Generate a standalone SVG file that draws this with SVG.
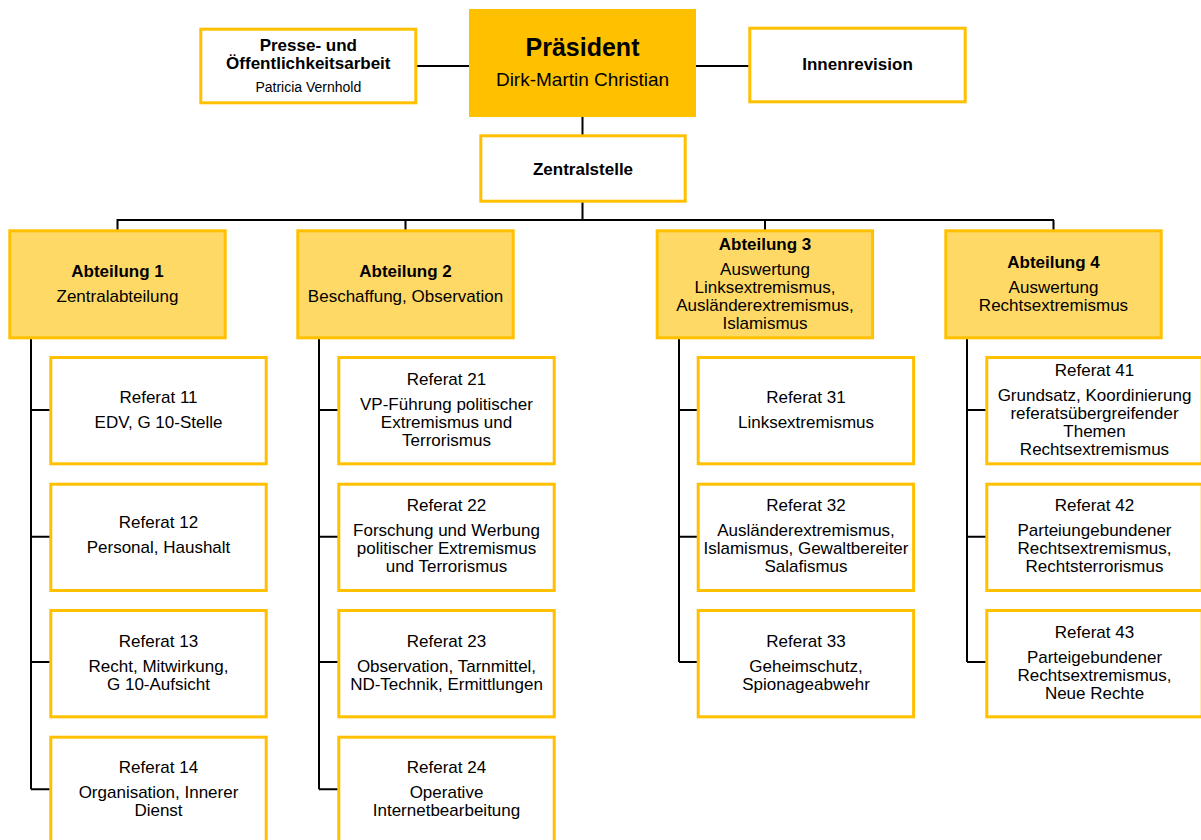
<svg xmlns="http://www.w3.org/2000/svg" width="1201" height="840" viewBox="0 0 1201 840">
<style>
.w{fill:#FFFFFF;stroke:#FFC000;stroke-width:3}
.a{fill:#FFD966;stroke:#FFC000;stroke-width:3}
.p{fill:#FFC000;stroke:none}
text{font-family:"Liberation Sans",Arial,sans-serif;fill:#000;text-anchor:middle;font-size:17px}
.b{font-weight:bold}
.c{fill:none;stroke:#000;stroke-width:2}
</style>
<rect width="1201" height="840" fill="#FFFFFF"/>
<g id="connectors">
<path class="c" d="M417 66H469M696 66H749M582.5 117V135M582.5 202V220M116.5 220H1054M117.5 220V230M405.5 220V230M765 220V230M1053.5 220V230"/>
<path class="c" d="M31 339V789.3M31 410H51M31 536.7H51M31 662H51M31 789.3H51"/>
<path class="c" d="M319 339V789.3M319 410H339M319 536.7H339M319 662H339M319 789.3H339"/>
<path class="c" d="M679 339V662M679 410H698M679 536.7H698M679 662H698"/>
<path class="c" d="M967 339V662M967 410H987M967 536.7H987M967 662H987"/>
</g>
<g id="praesident">
<rect class="p" x="469" y="9" width="227" height="108"/>
<text class="b" x="582.5" y="56" style="font-size:25px">Präsident</text>
<text x="582.5" y="86" style="font-size:19px">Dirk-Martin Christian</text>
</g>
<g id="presse">
<rect class="w" x="200.8" y="29.2" width="215" height="73.6"/>
<text class="b" x="308.3" y="51">Presse- und</text>
<text class="b" x="308.3" y="69">Öffentlichkeitsarbeit</text>
<text x="308.3" y="92" style="font-size:14px">Patricia Vernhold</text>
</g>
<g id="innenrevision">
<rect class="w" x="749.8" y="28.2" width="215.4" height="73.6"/>
<text class="b" x="857.5" y="70">Innenrevision</text>
</g>
<g id="zentralstelle">
<rect class="w" x="480.8" y="135.8" width="204.4" height="65.4"/>
<text class="b" x="583" y="175">Zentralstelle</text>
</g>
<g id="abteilung1">
<rect class="a" x="9.8" y="230.8" width="215.4" height="107"/>
<text class="b" x="117.5" y="277">Abteilung 1</text>
<text x="117.5" y="302">Zentralabteilung</text>
</g>
<g id="abteilung2">
<rect class="a" x="297.8" y="230.8" width="215.4" height="107"/>
<text class="b" x="405.5" y="277">Abteilung 2</text>
<text x="405.5" y="302">Beschaffung, Observation</text>
</g>
<g id="abteilung3">
<rect class="a" x="657.2" y="230.8" width="215.4" height="107"/>
<text class="b" x="765" y="250">Abteilung 3</text>
<text x="765" y="275">Auswertung</text>
<text x="765" y="293">Linksextremismus,</text>
<text x="765" y="311">Ausländerextremismus,</text>
<text x="765" y="329">Islamismus</text>
</g>
<g id="abteilung4">
<rect class="a" x="945.8" y="230.8" width="215.4" height="107"/>
<text class="b" x="1053.5" y="268">Abteilung 4</text>
<text x="1053.5" y="293">Auswertung</text>
<text x="1053.5" y="311">Rechtsextremismus</text>
</g>
<g id="referat11">
<rect class="w" x="50.8" y="357.5" width="215.4" height="106.3"/>
<text x="158.5" y="403">Referat 11</text>
<text x="158.5" y="428">EDV, G 10-Stelle</text>
</g>
<g id="referat12">
<rect class="w" x="50.8" y="484.2" width="215.4" height="106.3"/>
<text x="158.5" y="528">Referat 12</text>
<text x="158.5" y="553">Personal, Haushalt</text>
</g>
<g id="referat13">
<rect class="w" x="50.8" y="610.5" width="215.4" height="106.3"/>
<text x="158.5" y="647">Referat 13</text>
<text x="158.5" y="672">Recht, Mitwirkung,</text>
<text x="158.5" y="690">G 10-Aufsicht</text>
</g>
<g id="referat14">
<rect class="w" x="50.8" y="737.2" width="215.4" height="106.3"/>
<text x="158.5" y="773">Referat 14</text>
<text x="158.5" y="798">Organisation, Innerer</text>
<text x="158.5" y="816">Dienst</text>
</g>
<g id="referat21">
<rect class="w" x="338.8" y="357.5" width="215.4" height="106.3"/>
<text x="446.5" y="385">Referat 21</text>
<text x="446.5" y="410">VP-Führung politischer</text>
<text x="446.5" y="428">Extremismus und</text>
<text x="446.5" y="446">Terrorismus</text>
</g>
<g id="referat22">
<rect class="w" x="338.8" y="484.2" width="215.4" height="106.3"/>
<text x="446.5" y="511">Referat 22</text>
<text x="446.5" y="536">Forschung und Werbung</text>
<text x="446.5" y="554">politischer Extremismus</text>
<text x="446.5" y="572">und Terrorismus</text>
</g>
<g id="referat23">
<rect class="w" x="338.8" y="610.5" width="215.4" height="106.3"/>
<text x="446.5" y="647">Referat 23</text>
<text x="446.5" y="672">Observation, Tarnmittel,</text>
<text x="446.5" y="690">ND-Technik, Ermittlungen</text>
</g>
<g id="referat24">
<rect class="w" x="338.8" y="737.2" width="215.4" height="106.3"/>
<text x="446.5" y="773">Referat 24</text>
<text x="446.5" y="798">Operative</text>
<text x="446.5" y="816">Internetbearbeitung</text>
</g>
<g id="referat31">
<rect class="w" x="698.2" y="357.5" width="215.4" height="106.3"/>
<text x="806" y="403">Referat 31</text>
<text x="806" y="428">Linksextremismus</text>
</g>
<g id="referat32">
<rect class="w" x="698.2" y="484.2" width="215.4" height="106.3"/>
<text x="806" y="511">Referat 32</text>
<text x="806" y="536">Ausländerextremismus,</text>
<text x="806" y="554">Islamismus, Gewaltbereiter</text>
<text x="806" y="572">Salafismus</text>
</g>
<g id="referat33">
<rect class="w" x="698.2" y="610.5" width="215.4" height="106.3"/>
<text x="806" y="647">Referat 33</text>
<text x="806" y="672">Geheimschutz,</text>
<text x="806" y="690">Spionageabwehr</text>
</g>
<g id="referat41">
<rect class="w" x="986.8" y="357.5" width="215.4" height="106.3"/>
<text x="1094.5" y="376">Referat 41</text>
<text x="1094.5" y="401">Grundsatz, Koordinierung</text>
<text x="1094.5" y="419">referatsübergreifender</text>
<text x="1094.5" y="437">Themen</text>
<text x="1094.5" y="455">Rechtsextremismus</text>
</g>
<g id="referat42">
<rect class="w" x="986.8" y="484.2" width="215.4" height="106.3"/>
<text x="1094.5" y="511">Referat 42</text>
<text x="1094.5" y="536">Parteiungebundener</text>
<text x="1094.5" y="554">Rechtsextremismus,</text>
<text x="1094.5" y="572">Rechtsterrorismus</text>
</g>
<g id="referat43">
<rect class="w" x="986.8" y="610.5" width="215.4" height="106.3"/>
<text x="1094.5" y="638">Referat 43</text>
<text x="1094.5" y="663">Parteigebundener</text>
<text x="1094.5" y="681">Rechtsextremismus,</text>
<text x="1094.5" y="699">Neue Rechte</text>
</g>
</svg>
